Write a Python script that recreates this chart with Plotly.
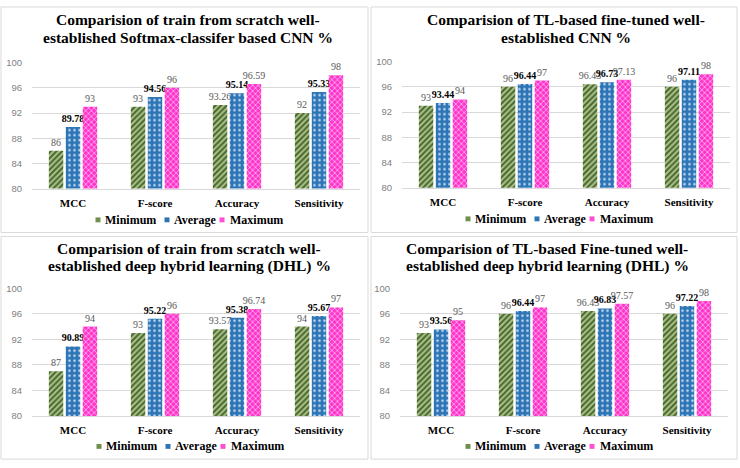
import plotly.graph_objects as go

W, H = 740, 468

categories = ["MCC", "F-score", "Accuracy", "Sensitivity"]
series_names = ["Minimum", "Average", "Maximum"]

title_lines = [
    ["Comparision of train from scratch well-", "established Softmax-classifer based CNN %"],
    ["Comparision of TL-based fine-tuned well-", "established CNN %"],
    ["Comparision of train from scratch well-", "established deep hybrid learning (DHL) %"],
    ["Comparision of TL-based Fine-tuned well-", "established deep hybrid learning (DHL) %"],
]

p1_min = [86, 93, 93.26, 92]
p1_avg = [89.78, 94.56, 95.14, 95.33]
p1_max = [93, 96, 96.59, 98]

p2_min = [93, 96, 96.43, 96]
p2_avg = [93.44, 96.44, 96.73, 97.11]
p2_max = [94, 97, 97.13, 98]

p3_min = [87, 93, 93.57, 94]
p3_avg = [90.89, 95.22, 95.38, 95.67]
p3_max = [94, 96, 96.74, 97]

p4_min = [93, 96, 96.43, 96]
p4_avg = [93.56, 96.44, 96.83, 97.22]
p4_max = [95, 97, 97.57, 98]

y_ticks = [80, 84, 88, 92, 96, 100]

panels = [
    (p1_min, p1_avg, p1_max),
    (p2_min, p2_avg, p2_max),
    (p3_min, p3_avg, p3_max),
    (p4_min, p4_avg, p4_max),
]

SERIF = "Liberation Serif, Times New Roman, serif"
SANS = "Liberation Sans, Arial, sans-serif"

# layout geometry in pixels
geo = [
    dict(x0=32, x1=360, yb=187, yt=58, tx=188, ty=(14, 32), lx=185, ly=219, box=(1, 1, 368, 232)),
    dict(x0=402, x1=730, yb=186, yt=57, tx=566, ty=(14, 32), lx=555, ly=218, box=(371, 1, 737, 232)),
    dict(x0=32, x1=360, yb=420, yt=289, tx=189, ty=(248, 266), lx=186, ly=451, box=(1, 236, 368, 464)),
    dict(x0=400, x1=728, yb=420, yt=289, tx=547, ty=(248, 266), lx=555, ly=451, box=(371, 236, 737, 464)),
]

styles = [
    dict(pattern=dict(shape="/", fgcolor="#476629", bgcolor="#adc48f", size=4, solidity=0.5, fillmode="replace"),
         tcolor="#595959", bold=False, swatch="#6f8f4a"),
    dict(pattern=dict(shape=".", fgcolor="#bcd5f0", bgcolor="#2e75b6", size=5, solidity=0.22, fillmode="replace"),
         tcolor="#000000", bold=True, swatch="#2e75b6"),
    dict(pattern=dict(shape="x", fgcolor="#ffd6f2", bgcolor="#ff33cc", size=4, solidity=0.3, fillmode="replace"),
         tcolor="#595959", bold=False, swatch="#ff4fd0"),
]

# legend item offsets (px) relative to the legend's left marker
leg_marker_dx = [0, 69, 124]
leg_text_dx = [5, 74, 130]

fig = go.Figure()
shapes = []
annotations = []
layout = {}

for i, (vals, g) in enumerate(zip(panels, geo)):
    n = "" if i == 0 else str(i + 1)
    xa, ya = "x" + n, "y" + n
    for j, (name, v, st) in enumerate(zip(series_names, vals, styles)):
        txt = [f"{x:g}" for x in v]
        if st["bold"]:
            txt = [f"<b>{t}</b>" for t in txt]
        fig.add_trace(go.Bar(
            x=categories, y=v, name=name, xaxis=xa, yaxis=ya, showlegend=False,
            text=txt, textposition="outside", constraintext="none", cliponaxis=False,
            textfont=dict(family=SERIF, size=10, color=st["tcolor"]),
            marker=dict(color=st["pattern"]["bgcolor"], pattern=st["pattern"], line=dict(width=0)),
            hoverinfo="x+y",
        ))
    layout["xaxis" + n] = dict(
        domain=[g["x0"] / W, g["x1"] / W], anchor=ya,
        tickfont=dict(family=SERIF, size=11, color="#000000", weight="bold"),
        showline=True, linecolor="#d9d9d9", ticks="", showgrid=False, fixedrange=True,
        ticklabelstandoff=4,
    )
    layout["yaxis" + n] = dict(
        domain=[1 - g["yb"] / H, 1 - g["yt"] / H], anchor=xa,
        range=[80, 100], tickvals=y_ticks, showgrid=True, gridcolor="#d9d9d9", gridwidth=1,
        zeroline=False, showline=False, ticks="",
        tickfont=dict(family=SANS, size=9.5, color="#7f7f7f"),
        ticklabelstandoff=9, fixedrange=True,
    )
    # title (two lines)
    for line, ty in zip(title_lines[i], g["ty"]):
        annotations.append(dict(
            text="<b>" + line + "</b>", x=g["tx"] / W, y=1 - ty / H,
            xref="paper", yref="paper", xanchor="center", yanchor="middle", showarrow=False,
            font=dict(family=SERIF, size=15.5, color="#000000"),
        ))
    # legend (swatch + label)
    left = g["lx"] - 87
    for j, (name, st) in enumerate(zip(series_names, styles)):
        mx = left + leg_marker_dx[j]
        shapes.append(dict(
            type="rect", xref="paper", yref="paper",
            x0=(mx - 2.5) / W, x1=(mx + 2.5) / W,
            y0=1 - (g["ly"] + 2.5) / H, y1=1 - (g["ly"] - 2.5) / H,
            fillcolor=st["swatch"], line=dict(width=0),
        ))
        annotations.append(dict(
            text="<b>" + name + "</b>", x=(left + leg_text_dx[j]) / W, y=1 - g["ly"] / H,
            xref="paper", yref="paper", xanchor="left", yanchor="middle", showarrow=False,
            font=dict(family=SERIF, size=12, color="#000000"),
        ))
    bx0, by0, bx1, by1 = g["box"]
    shapes.append(dict(
        type="rect", xref="paper", yref="paper",
        x0=bx0 / W, x1=bx1 / W, y0=1 - by1 / H, y1=1 - by0 / H,
        line=dict(color="#d9d9d9", width=1), fillcolor="rgba(0,0,0,0)", layer="below",
    ))

fig.update_layout(
    width=W, height=H, margin=dict(l=0, r=0, t=0, b=0),
    paper_bgcolor="white", plot_bgcolor="white",
    barmode="group", bargap=0.38, bargroupgap=0.15,
    shapes=shapes, annotations=annotations, showlegend=False,
    **layout,
)

fig.write_html(
    "out.html",
    config={"displayModeBar": False},
    post_script="document.body.style.margin='0';document.body.style.overflow='hidden';",
)
